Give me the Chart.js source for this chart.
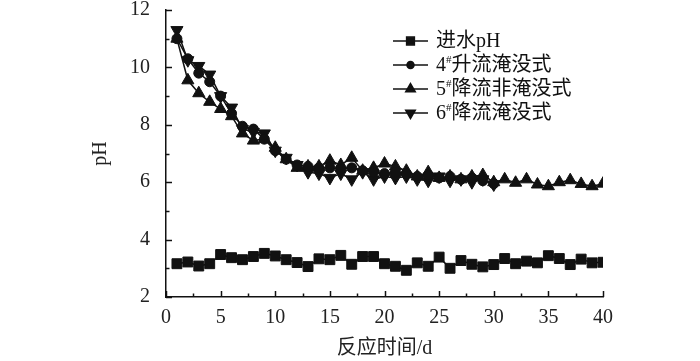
<!DOCTYPE html>
<html>
<head>
<meta charset="utf-8">
<script src="https://cdn.jsdelivr.net/npm/chart.js@4/dist/chart.umd.min.js"></script>
<style>
  html, body { margin: 0; background: #fff; }
  #wrap { width: 700px; height: 361px; }
</style>
</head>
<body>
<div id="wrap"><canvas id="myChart"></canvas></div>
<script>

// DONNEES //

const days = [1,2,3,4,5,6,7,8,9,10,11,12,13,14,15,16,17,18,19,20,
              21,22,23,24,25,26,27,28,29,30,31,32,33,34,35,36,37,38,39,40];

const influentPH = [3.16,3.22,3.08,3.16,3.48,3.37,3.30,3.41,3.52,3.43,
                    3.30,3.20,3.06,3.33,3.30,3.45,3.14,3.41,3.41,3.16,
                    3.07,2.93,3.19,3.07,3.39,3.00,3.27,3.14,3.05,3.13,
                    3.34,3.16,3.25,3.19,3.44,3.34,3.13,3.32,3.19,3.21];

const upflow4 = [11.0,10.3,9.8,9.5,9.0,8.4,7.95,7.85,7.5,7.1,
                 6.8,6.6,6.55,6.5,6.5,6.45,6.5,6.4,6.35,6.3,
                 6.35,6.3,6.2,6.25,6.15,6.2,6.1,6.15,6.05,5.95];

const downflow5 = [11.0,9.55,9.1,8.8,8.55,8.3,7.7,7.45,7.5,7.2,
                   6.8,6.5,6.55,6.55,6.75,6.6,6.85,6.4,6.5,6.65,
                   6.55,6.4,6.2,6.35,6.15,6.2,6.1,6.2,6.25,6.0,
                   6.1,5.98,6.1,5.92,5.86,6.0,6.07,5.94,5.86,5.95];

const downflow6 = [11.3,10.25,10.05,9.75,9.0,8.6,7.85,7.75,7.7,7.1,
                   6.85,6.6,6.35,6.3,6.15,6.3,6.1,6.35,6.1,6.2,
                   6.15,6.2,6.1,6.05,6.2,6.05,6.1,6.0,6.1,5.92];

const seriesNames = ['进水pH', '4#升流淹没式', '5#降流非淹没式', '6#降流淹没式'];

const xTicks = [0,2.5,5,7.5,10,12.5,15,17.5,20,22.5,25,27.5,30,32.5,35,37.5,40];
const yTicks = [2,3,4,5,6,7,8,9,10,11,12];

const FONT = "'Liberation Serif', 'Times New Roman', 'Noto Sans CJK SC', serif";

const toPoints = (vals) => vals.map((v, i) => ({ x: days[i], y: v }));


// TICKS VERS L'INTERIEUR //

const innerTicks = {
  id: 'innerTicks',
  afterDraw(chart) {
    const { ctx, chartArea, scales: { x, y } } = chart;
    ctx.save();
    ctx.strokeStyle = '#111';
    ctx.lineWidth = 1.5;
    xTicks.forEach(v => {
      const px = Math.round(x.getPixelForValue(v)) + 0.5;
      const len = v % 5 === 0 ? 6 : 3.5;
      ctx.beginPath();
      ctx.moveTo(px, chartArea.bottom);
      ctx.lineTo(px, chartArea.bottom - len);
      ctx.stroke();
    });
    yTicks.forEach(v => {
      const py = Math.round(y.getPixelForValue(v)) + 0.5;
      const len = v % 2 === 0 ? 6 : 3.5;
      ctx.beginPath();
      ctx.moveTo(chartArea.left, py);
      ctx.lineTo(chartArea.left + len, py);
      ctx.stroke();
    });
    ctx.restore();
  }
};


// LEGENDE //

const legendBox = {
  id: 'legendBox',
  afterDraw(chart) {
    const { ctx } = chart;
    const x0 = 393, x1 = 428, tx = 436;
    const rows = [41, 65, 89, 113];
    ctx.save();
    chart.data.datasets.forEach((ds, i) => {
      const yy = rows[i];
      ctx.strokeStyle = '#111';
      ctx.lineWidth = 1.5;
      ctx.beginPath();
      ctx.moveTo(x0, yy);
      ctx.lineTo(x1, yy);
      ctx.stroke();
      ctx.fillStyle = '#111';
      Chart.helpers.drawPoint(ctx, {
        pointStyle: ds.pointStyle,
        radius: ds.pointRadius - 1.5,
        rotation: ds.pointRotation || 0,
        borderWidth: 1
      }, (x0 + x1) / 2, yy);
      ctx.textBaseline = 'middle';
      const name = seriesNames[i];
      let cx = tx;
      if (name.indexOf('#') === 1) {
        ctx.font = '20px ' + FONT;
        ctx.fillText(name[0], cx, yy + 1);
        cx += ctx.measureText(name[0]).width;
        ctx.font = '11px ' + FONT;
        ctx.fillText('#', cx, yy - 5);
        cx += ctx.measureText('#').width;
        ctx.font = '20px ' + FONT;
        ctx.fillText(name.slice(2), cx, yy + 1);
      } else {
        ctx.font = '20px ' + FONT;
        ctx.fillText(name, cx, yy + 1);
      }
    });
    ctx.restore();
  }
};


// GRAPHIQUE //

const ctx = document.getElementById('myChart');

const lineStyle = {
  borderColor: '#111',
  backgroundColor: '#111',
  pointBorderColor: '#111',
  pointBackgroundColor: '#111',
  borderWidth: 1.5,
  pointBorderWidth: 1,
  tension: 0
};

new Chart(ctx, {
  type: 'line',
  data: {
    datasets: [
      { ...lineStyle, label: seriesNames[0], data: toPoints(influentPH), pointStyle: 'rect', pointRadius: 7 },
      { ...lineStyle, label: seriesNames[1], data: toPoints(upflow4), pointStyle: 'circle', pointRadius: 5 },
      { ...lineStyle, label: seriesNames[2], data: toPoints(downflow5), pointStyle: 'triangle', pointRadius: 7 },
      { ...lineStyle, label: seriesNames[3], data: toPoints(downflow6), pointStyle: 'triangle', pointRotation: 180, pointRadius: 7 }
    ]
  },
  options: {
    responsive: true,
    maintainAspectRatio: false,
    animation: false,
    layout: {
      padding: { left: 89, right: 97, top: 10, bottom: 0 }
    },
    plugins: {
      legend: false,
      tooltip: false
    },
    scales: {
      x: {
        type: 'linear',
        min: 0,
        max: 40,
        grid: { display: false },
        border: { display: true, color: '#111', width: 1.5 },
        ticks: {
          stepSize: 5,
          padding: 1,
          color: '#222',
          font: { family: FONT, size: 20 }
        },
        title: {
          display: true,
          text: '反应时间/d',
          color: '#222',
          padding: { top: 8, bottom: 0 },
          font: { family: FONT, size: 20 }
        },
        afterFit: (s) => { s.height = 64; }
      },
      y: {
        min: 2,
        max: 12,
        grid: { display: false },
        border: { display: true, color: '#111', width: 1.5 },
        ticks: {
          stepSize: 2,
          padding: 8,
          color: '#222',
          font: { family: FONT, size: 20 }
        },
        title: {
          display: true,
          text: 'pH',
          color: '#222',
          padding: { top: 0, bottom: 0 },
          font: { family: FONT, size: 20 }
        },
        afterFit: (s) => { s.width = 77; s.paddingTop = 0; }
      }
    }
  },
  plugins: [innerTicks, legendBox]
});

</script>
</body>
</html>
